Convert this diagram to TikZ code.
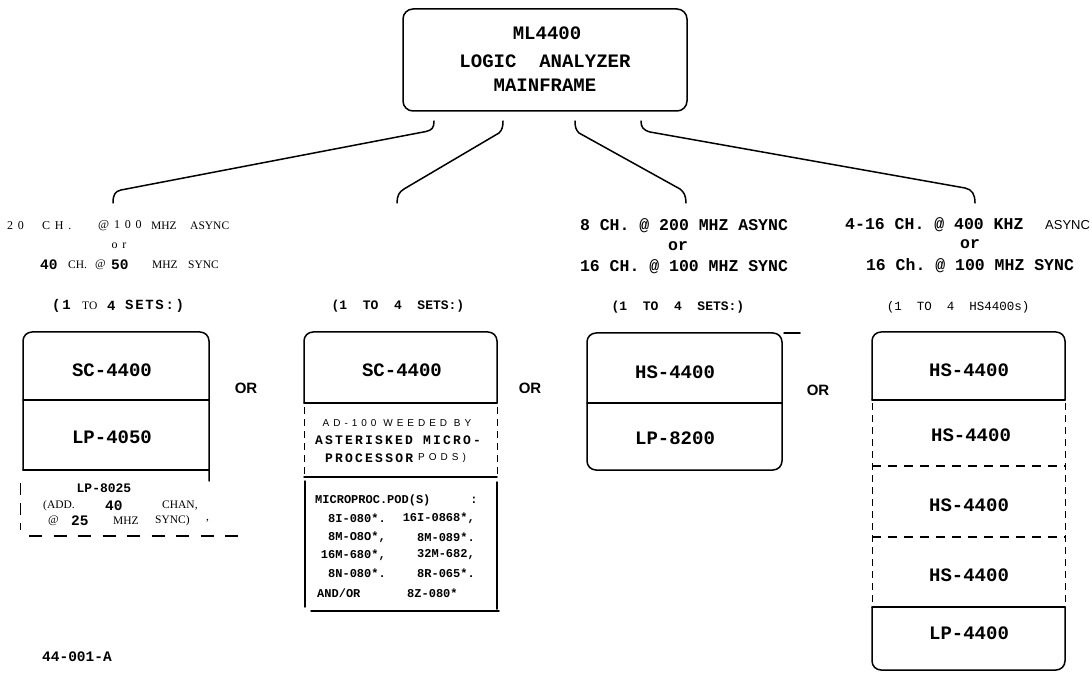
\documentclass[tikz,border=0pt]{standalone}
\usepackage{fontspec}
\setmainfont{Liberation Serif}
\setsansfont{Liberation Sans}
\setmonofont{Liberation Mono}
\begin{document}
\begin{tikzpicture}[x=1pt,y=-1pt]
\tikzset{
 ln/.style={line width=1.5pt, line cap=round, line join=round},
 conn/.style={line width=1.5pt, line cap=round},
 lbl/.style={inner sep=0pt, font=\fontsize{19}{22}\selectfont\ttfamily\bfseries},
 hd/.style={inner sep=0pt, font=\fontsize{16.5}{20}\selectfont\ttfamily\bfseries},
 st/.style={inner sep=0pt, font=\fontsize{13}{16}\selectfont\ttfamily\bfseries},
 stw/.style={inner sep=0pt, font=\fontsize{14}{16}\selectfont\ttfamily\bfseries\addfontfeature{LetterSpace=12}},
 sm/.style={inner sep=0pt, font=\fontsize{12}{14}\selectfont\ttfamily\bfseries},
 bn/.style={inner sep=0pt, font=\fontsize{14.5}{17}\selectfont\ttfamily\bfseries},
 sr/.style={inner sep=0pt, font=\fontsize{11.5}{14}\selectfont\rmfamily},
 lsr/.style={inner sep=0pt, font=\fontsize{12}{14}\selectfont\rmfamily\addfontfeature{LetterSpace=40}},
 orl/.style={inner sep=0pt, font=\fontsize{15}{18}\selectfont\sffamily\bfseries},
 ssp/.style={inner sep=0pt, font=\fontsize{10}{12}\selectfont\sffamily\addfontfeature{LetterSpace=40}},
 msp/.style={inner sep=0pt, font=\fontsize{13}{16}\selectfont\ttfamily\bfseries\addfontfeature{LetterSpace=17}},
 thin dash/.style={line width=0.9pt, dash pattern=on 7pt off 5pt},
 thick dash/.style={line width=1.6pt, dash pattern=on 9pt off 7pt},
}
\useasboundingbox (0,0) rectangle (1092,684);

% main box
\node[ln, draw, rounded corners=10pt, minimum width=284pt, minimum height=102pt, inner sep=0pt] (main) at (545,60) {};
\node[lbl] (m1) at (547,33) {ML4400};
\node[lbl] (m2) at (545,61) {LOGIC~~ANALYZER};
\node[lbl] (m3) at (545,85) {MAINFRAME};

% connectors
\coordinate (c1s) at (434,121); \coordinate (c1e) at (113,203);
\coordinate (c2s) at (503,121); \coordinate (c2e) at (397,203);
\coordinate (c3s) at (575,121); \coordinate (c3e) at (686,203);
\coordinate (c4s) at (641,121); \coordinate (c4e) at (975,203);
\draw[conn] (c1s) .. controls (434,128) and (432,130) .. (426,131.5) -- (121,190) .. controls (115,191.2) and (113,195) .. (c1e);
\draw[conn] (c2s) .. controls (503,127) and (502,130) .. (499,133) -- (404,189) .. controls (399,192) and (397,196) .. (c2e);
\draw[conn] (c3s) .. controls (575,127) and (576,130) .. (579,133) -- (680,189) .. controls (684,192) and (686,196) .. (c3e);
\draw[conn] (c4s) .. controls (641,127) and (643,130) .. (650,132) -- (965,188) .. controls (972,189.5) and (975,194) .. (c4e);

% ---------- column 1
\node[lsr, anchor=west] (a1) at (7,226) {20};
\node[lsr, anchor=west] (a2) at (42,226) {CH.};
\node[lsr, anchor=west] (a3) at (98,226) {@100};
\node[sr, anchor=west] (a4) at (151,226) {MHZ};
\node[sr, anchor=west] (a5) at (190,226) {ASYNC};
\node[lsr] (a6) at (119,246) {or};
\node[bn, anchor=west] (b1) at (40,265) {40};
\node[sr, anchor=west] (b2) at (68,265) {CH.};
\node[sr, anchor=west] (b3) at (95,265) {@};
\node[bn, anchor=west] (b4) at (111,265) {50};
\node[sr, anchor=west] (b5) at (152,265) {MHZ};
\node[sr, anchor=west] (b6) at (188,265) {SYNC};
\node[stw, anchor=west] (s1) at (52,306) {(1};
\node[sr, anchor=west] (s2) at (82,306) {TO};
\node[stw, anchor=west] (s3) at (107,306) {4};
\node[stw, anchor=west] (s4) at (125,306) {SETS:)};

\draw[ln, rounded corners=9pt] (23,470) -- (23,332) -- (209,332) -- (209,481);
\draw[ln] (23,400) -- (209,400);
\draw[ln] (23,470) -- (209,470);
\draw[line width=1pt, dash pattern=on 12pt off 8pt] (20,483) -- (20,530);
\draw[line width=1.3pt, dash pattern=on 13pt off 11.5pt] (29,536) -- (240,536);
\node[lbl] (sc1) at (112,370) {SC-4400};
\node[lbl] (lp1) at (112,437) {LP-4050};
\node[orl] (or1) at (246,388) {OR};
\node[st] (lp8) at (104,488) {LP-8025};
\node[sr, anchor=west] (d1) at (43,506) {(ADD.};
\node[bn, anchor=west] (d2) at (105,506) {40};
\node[sr, anchor=west] (d3) at (162,506) {CHAN,};
\node[sr, anchor=west] (e1) at (48,521) {@};
\node[bn, anchor=west] (e2) at (71,521) {25};
\node[sr, anchor=west] (e3) at (113,521) {MHZ};
\node[sr, anchor=west] (e4) at (155,521) {SYNC)};
\node[sr, anchor=west] (e5) at (206,521) {,};

% ---------- column 2
\node[st] (s21) at (398,306) {(1~~TO~~4~~SETS:)};
\draw[ln, rounded corners=9pt] (304,403) -- (304,332) -- (497,332) -- (497,403);
\draw[ln] (304,403) -- (497,403);
\draw[thin dash] (304,407) -- (304,474);
\draw[thin dash] (497,407) -- (497,474);
\draw[ln] (304,477) -- (497,477);
\draw[ln] (305,481) -- (305,607);
\draw[ln] (497,482) -- (497,609);
\draw[ln] (311,611) -- (499,611);
\node[lbl] (sc2) at (402,370) {SC-4400};
\node[orl] (or2) at (530,388) {OR};
\node[ssp] (ad1) at (397,423) {AD-100 WEEDED BY};
\node[msp] (ad2) at (398,440) {ASTERISKED MICRO-};
\node[msp, anchor=west] (ad3) at (325,458) {PROCESSOR};
\node[ssp, anchor=west] (ad4) at (418,458) {PODS)};
\node[sm, anchor=west] (p0) at (315,500) {MICROPROC.POD(S)};
\node[sm] (p0b) at (474,500) {:};
\node[sm, anchor=east] (p1a) at (386,518) {8I-080*.};
\node[sm, anchor=east] (p1b) at (475,518) {16I-0868*,};
\node[sm, anchor=east] (p2a) at (386,537) {8M-O8O*,};
\node[sm, anchor=east] (p2b) at (475,537) {8M-089*.};
\node[sm, anchor=east] (p3a) at (386,555) {16M-680*,};
\node[sm, anchor=east] (p3b) at (475,555) {32M-682,};
\node[sm, anchor=east] (p4a) at (386,573) {8N-080*.};
\node[sm, anchor=east] (p4b) at (475,573) {8R-065*.};
\node[sm, anchor=west] (p5a) at (317,593) {AND/OR};
\node[sm, anchor=west] (p5b) at (407,593) {8Z-080*};

% ---------- column 3
\node[hd] (h31) at (684,226) {8 CH. @ 200 MHZ ASYNC};
\node[hd] (h32) at (678,246) {or};
\node[hd] (h33) at (684,267) {16 CH. @ 100 MHZ SYNC};
\node[st] (s31) at (678,307) {(1~~TO~~4~~SETS:)};
\draw[ln, rounded corners=9pt] (587,333) rectangle (782,470);
\draw[ln] (587,403) -- (782,403);
\draw[ln] (784,333) -- (800,333);
\node[lbl] (hs3) at (675,372) {HS-4400};
\node[lbl] (lp3) at (675,438) {LP-8200};
\node[orl] (or3) at (818,390) {OR};

% ---------- column 4
\node[hd, anchor=west] (h41) at (845,225) {4-16 CH. @ 400 KHZ};
\node[inner sep=0pt, font=\fontsize{13}{16}\selectfont\sffamily, anchor=west] (h41b) at (1045,225) {ASYNC};
\node[hd] (h42) at (970,244) {or};
\node[hd] (h43) at (970,266) {16 Ch. @ 100 MHZ SYNC};
\node[inner sep=0pt, font=\fontsize{12.5}{15}\selectfont\ttfamily] (s41) at (958,307) {(1~~TO~~4~~HS4400s)};
\draw[ln, rounded corners=9pt] (872,400) -- (872,332) -- (1065,332) -- (1065,400);
\draw[ln] (872,400) -- (1065,400);
\draw[ln, rounded corners=9pt] (872,607) -- (872,670) -- (1065,670) -- (1065,607);
\draw[ln] (872,607) -- (1065,607);
\draw[thin dash] (872,403) -- (872,604);
\draw[thin dash] (1065,403) -- (1065,604);
\draw[thick dash] (872,466) -- (1065,466);
\draw[thick dash] (872,537) -- (1065,537);
\node[lbl] (hs41) at (969,370) {HS-4400};
\node[lbl] (hs42) at (971,435) {HS-4400};
\node[lbl] (hs43) at (969,505) {HS-4400};
\node[lbl] (hs44) at (969,575) {HS-4400};
\node[lbl] (lp4) at (969,633) {LP-4400};

% ---------- footer
\node[bn] (ft) at (77,657) {44-001-A};
\end{tikzpicture}
\end{document}
